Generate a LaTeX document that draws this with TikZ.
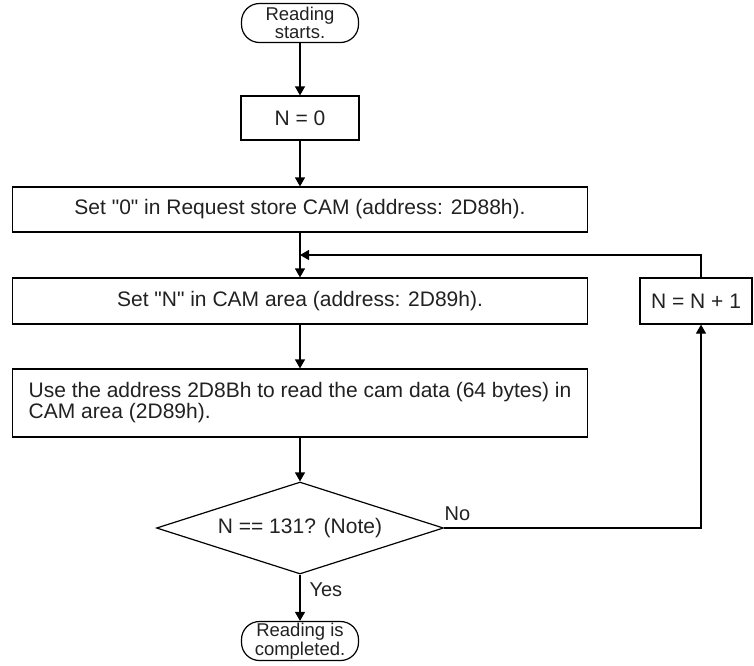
\documentclass[tikz,border=0pt]{standalone}
\usepackage{fontspec}
\setmainfont{Liberation Sans}
\newfontfamily\lsans{Liberation Sans}
\usetikzlibrary{arrows.meta,shapes.geometric}
\begin{document}
\begin{tikzpicture}[x=1pt,y=-1pt,
  line width=1.2pt,
  >={Triangle[length=9pt,width=10pt]},
  proc/.style={draw, rectangle, inner sep=0pt, font=\lsans\fontsize{21}{21}\selectfont, text=black!87},
  term/.style={draw, rectangle, rounded corners=18pt, inner sep=0pt, minimum width=117pt, minimum height=39pt, align=center, font=\lsans\fontsize{18.5}{18.5}\selectfont, text=black!87},
  dec/.style={draw, diamond, shape aspect=3.1, inner sep=0pt, minimum width=287pt, minimum height=92pt, font=\lsans\fontsize{21}{21}\selectfont, text=black!87},
  lbl/.style={inner sep=0pt, font=\lsans\fontsize{20}{20}\selectfont, text=black!87},
  flow/.style={->}]
\useasboundingbox (0,0) rectangle (754,665);
\node[term] (start) at (300,23) {Reading\\starts.};
\node[proc, minimum width=118pt, minimum height=44pt] (n0) at (300,118) {N = 0};
\node[proc, minimum width=575pt, minimum height=45pt] (set0) at (300,209.5) {Set "0" in Request store CAM (address: 2D88h).};
\node[proc, minimum width=575pt, minimum height=46pt] (setN) at (300,301) {Set "N" in CAM area (address: 2D89h).};
\node[proc, minimum width=575pt, minimum height=68pt, align=left] (use) at (300,403) {Use the address 2D8Bh to read the cam data (64 bytes) in\\CAM area (2D89h).};
\node[dec] (test) at (300,528) {N == 131? (Note)};
\node[proc, minimum width=112pt, minimum height=46pt] (inc) at (696,301) {N = N + 1};
\node[term] (stop) at (300,641) {Reading is\\completed.};
\coordinate (cR) at (701,528);
\coordinate (cT) at (701,255);
\draw[flow] (start) -- (n0);
\draw[flow] (n0) -- (set0);
\draw[flow] (set0) -- (setN);
\draw[flow] (setN) -- (use);
\draw[flow] (use) -- (test);
\draw[flow] (test) -- node[lbl, anchor=west, pos=0.32, xshift=9pt] {Yes} (stop);
\draw[flow] (test.east) -- node[lbl, anchor=south west, pos=0, yshift=7pt] {No} (cR) -- (cR |- inc.south);
\draw[flow] (cT |- inc.north) -- (cT) -- (cT -| set0.south);
\end{tikzpicture}
\end{document}
